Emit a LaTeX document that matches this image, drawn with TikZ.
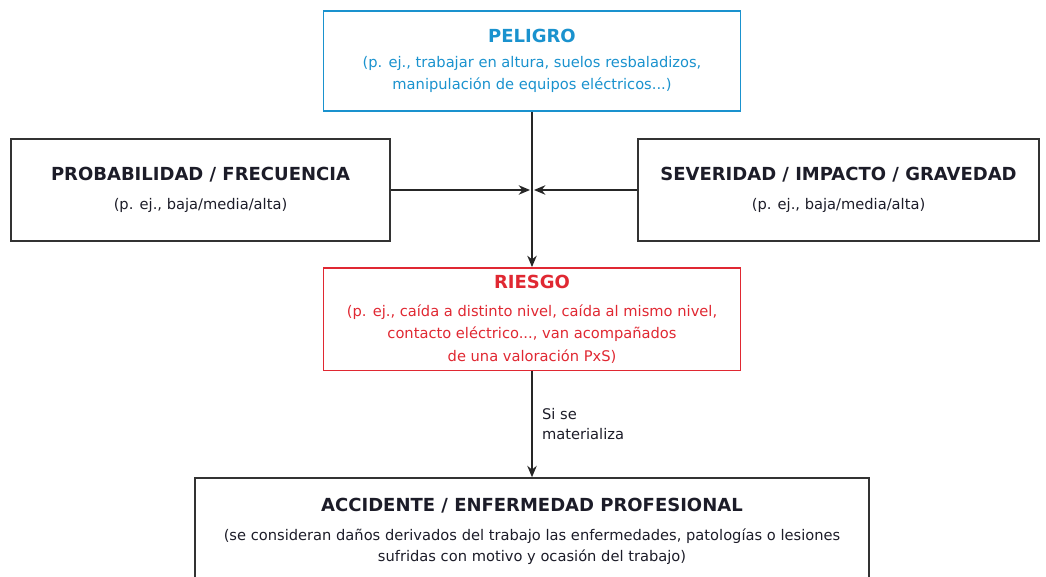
\documentclass[tikz,border=0pt]{standalone}
\usepackage{fontspec}
\setmainfont{DejaVu Sans}
\usetikzlibrary{positioning,arrows.meta}
\definecolor{figblue}{RGB}{26,146,206}
\definecolor{figred}{RGB}{224,40,50}
\definecolor{figink}{RGB}{28,28,40}
\newcommand{\boxtitle}[1]{{\fontsize{13.5}{16}\selectfont\bfseries #1}}
\tikzset{
  fig/.style={font=\fontsize{11}{17}\selectfont,text=figink},
  box/.style={draw=black!80,line width=1.5pt,align=center,inner sep=2pt},
  pelbox/.style={box,draw=figblue,line width=1.1pt,text=figblue},
  riesbox/.style={box,draw=figred,line width=1.1pt,text=figred},
  ln/.style={-{Stealth[length=3mm,width=2.5mm]},line width=1.1pt,draw=black!85},
  lbl/.style={inner sep=0pt,align=left,font=\fontsize{11}{15}\selectfont},
}

\begin{document}
\begin{tikzpicture}[fig,x=0.75pt,y=-0.75pt,
  side/.style={box,minimum width=#1,minimum height=77pt}]

\useasboundingbox (0,0) rectangle (1046,577);
\clip (0,0) rectangle (1046,577);

\node[pelbox,minimum width=312.5pt,minimum height=75pt] (pel) at (532,61)
  {\boxtitle{PELIGRO}\\[1.3pt] (p. ej., trabajar en altura, suelos resbaladizos,\\ manipulación de equipos eléctricos...)};
\node[side=284.5pt] (prob) at (200.5,190)
  {\boxtitle{PROBABILIDAD / FRECUENCIA}\\[4.5pt] (p. ej., baja/media/alta)};
\node[side=301pt] (sev) at (838.5,190)
  {\boxtitle{SEVERIDAD / IMPACTO / GRAVEDAD}\\[4.5pt] (p. ej., baja/media/alta)};
\node[riesbox,minimum width=312.5pt,minimum height=77pt,below=116.5pt of pel] (ries)
  {\boxtitle{RIESGO}\\[4pt] (p. ej., caída a distinto nivel, caída al mismo nivel,\\ contacto eléctrico..., van acompañados\\ de una valoración PxS)};
\node[box,minimum width=506pt,minimum height=79.5pt,below=79.5pt of ries,
      font=\fontsize{11}{15.75}\selectfont] (acc)
  {\boxtitle{ACCIDENTE / ENFERMEDAD PROFESIONAL}\\[5.75pt] (se consideran daños derivados del trabajo las enfermedades, patologías o lesiones\\ sufridas con motivo y ocasión del trabajo)};

\coordinate (mid) at (pel.south |- prob.east);

\draw[ln] (pel) -- (ries);
\draw[ln,shorten >=1.5pt] (prob) -- (mid);
\draw[ln,shorten >=1.5pt] (sev) -- (mid);
\draw[ln] (ries) -- node[lbl,right=7pt] {Si se\\materializa} (acc);

\end{tikzpicture}
\end{document}
